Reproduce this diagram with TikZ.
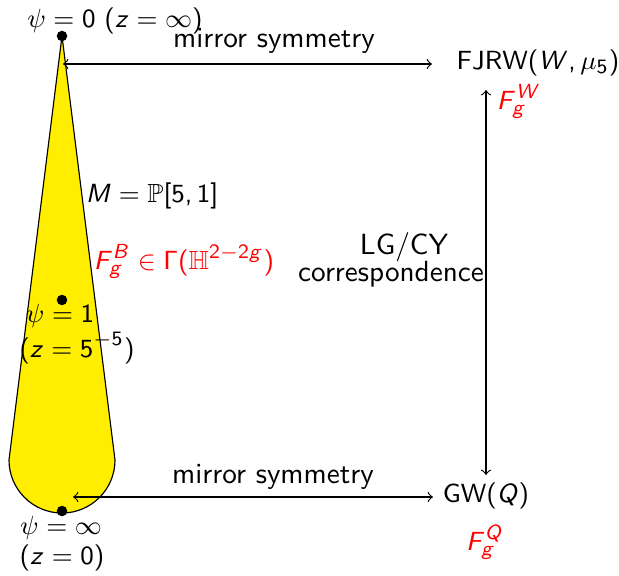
\documentclass[tikz,border=0pt]{standalone}
\usepackage{amssymb}
\renewcommand{\familydefault}{\sfdefault}
\DeclareMathSizes{9}{9}{6.8}{5}
\DeclareSymbolFont{sansops}{OT1}{cmss}{m}{n}
\DeclareSymbolFont{sanslets}{OT1}{cmss}{m}{sl}
\newcommand{\sanslet}[1]{\DeclareMathSymbol{#1}{\mathalpha}{sanslets}{`#1}}
\newcommand{\sansdig}[1]{\DeclareMathSymbol{#1}{\mathalpha}{sansops}{`#1}}
\sanslet{z}\sanslet{M}\sanslet{F}\sanslet{g}\sanslet{B}\sanslet{W}\sanslet{Q}
\sansdig{0}\sansdig{1}\sansdig{2}\sansdig{5}
\DeclareMathSymbol{(}{\mathopen}{sansops}{`(}
\DeclareMathSymbol{)}{\mathclose}{sansops}{`)}
\DeclareMathSymbol{[}{\mathopen}{sansops}{`[}
\DeclareMathSymbol{]}{\mathclose}{sansops}{`]}
\DeclareMathSymbol{,}{\mathpunct}{sansops}{`,}
\DeclareMathSymbol{\Gamma}{\mathalpha}{sansops}{"00}
\definecolor{coneyellow}{RGB}{255,238,0}
\begin{document}
\begin{tikzpicture}[x=0.3425pt,y=-0.3425pt,>=to,
  every node/.style={inner sep=0pt},
  small/.style={font=\fontsize{9}{11}\selectfont},
  big/.style={font=\fontsize{10}{12}\selectfont},
  dot/.style={circle,fill=black,inner sep=0pt,minimum size=3.6pt},
  conn/.style={<->,line width=0.4pt},
  redlbl/.style={small,text=red}]
\useasboundingbox (0,0) rectangle (619,575);
% cone
\filldraw[fill=coneyellow,draw=black,line width=0.4pt]
  (62,36) -- (115,460) arc[start angle=0,end angle=180,radius=53] -- cycle;
% dots
\node[dot] (top) at (62,36) {};
\node[dot] (mid) at (62,300) {};
\node[dot] (bot) at (62,511) {};
% labels on the cone
\node[small] (l0) at (115,21) {$\psi=0$ $(z=\infty)$};
\node[small] (l1a) at (60,316) {$\psi=1$};
\node[small] (l1b) at (77,348) {$(z=5^{-5})$};
\node[small] (linfa) at (61,528) {$\psi=\infty$};
\node[small] (linfb) at (62,558) {$(z=0)$};
\node[small] (mlab) at (152,196) {$M=\mathbb{P}[5,1]$};
\node[redlbl] (fb) at (184,261) {$F_g^B\in\Gamma(\mathbb{H}^{2-2g})$};
% right side
\node[small] (fjrw) at (538,63) {FJRW$(W,\mu_5)$};
\node[redlbl] (fw) at (519,101) {$F_g^W$};
\node[small] (gw) at (486,496) {GW$(Q)$};
\node[redlbl] (fq) at (485,542) {$F_g^Q$};
% connector ends
\coordinate (tl) at (63,64);
\coordinate (tr) at (432,64);
\coordinate (bl) at (73,497);
\coordinate (br) at (433,497);
\coordinate (vt) at (486,90);
\coordinate (vb) at (486,475);
\draw[conn] (tl) -- (tr);
\draw[conn] (bl) -- (br);
\draw[conn] (vt) -- (vb);
\node[big,anchor=base] (ms1) at (274,48) {mirror symmetry};
\node[big,anchor=base] (ms2) at (273,483) {mirror symmetry};
\node[big] (lgcy) at (404,247) {LG/CY};
\node[big] (corr) at (391,274) {correspondence};
\end{tikzpicture}
\end{document}
